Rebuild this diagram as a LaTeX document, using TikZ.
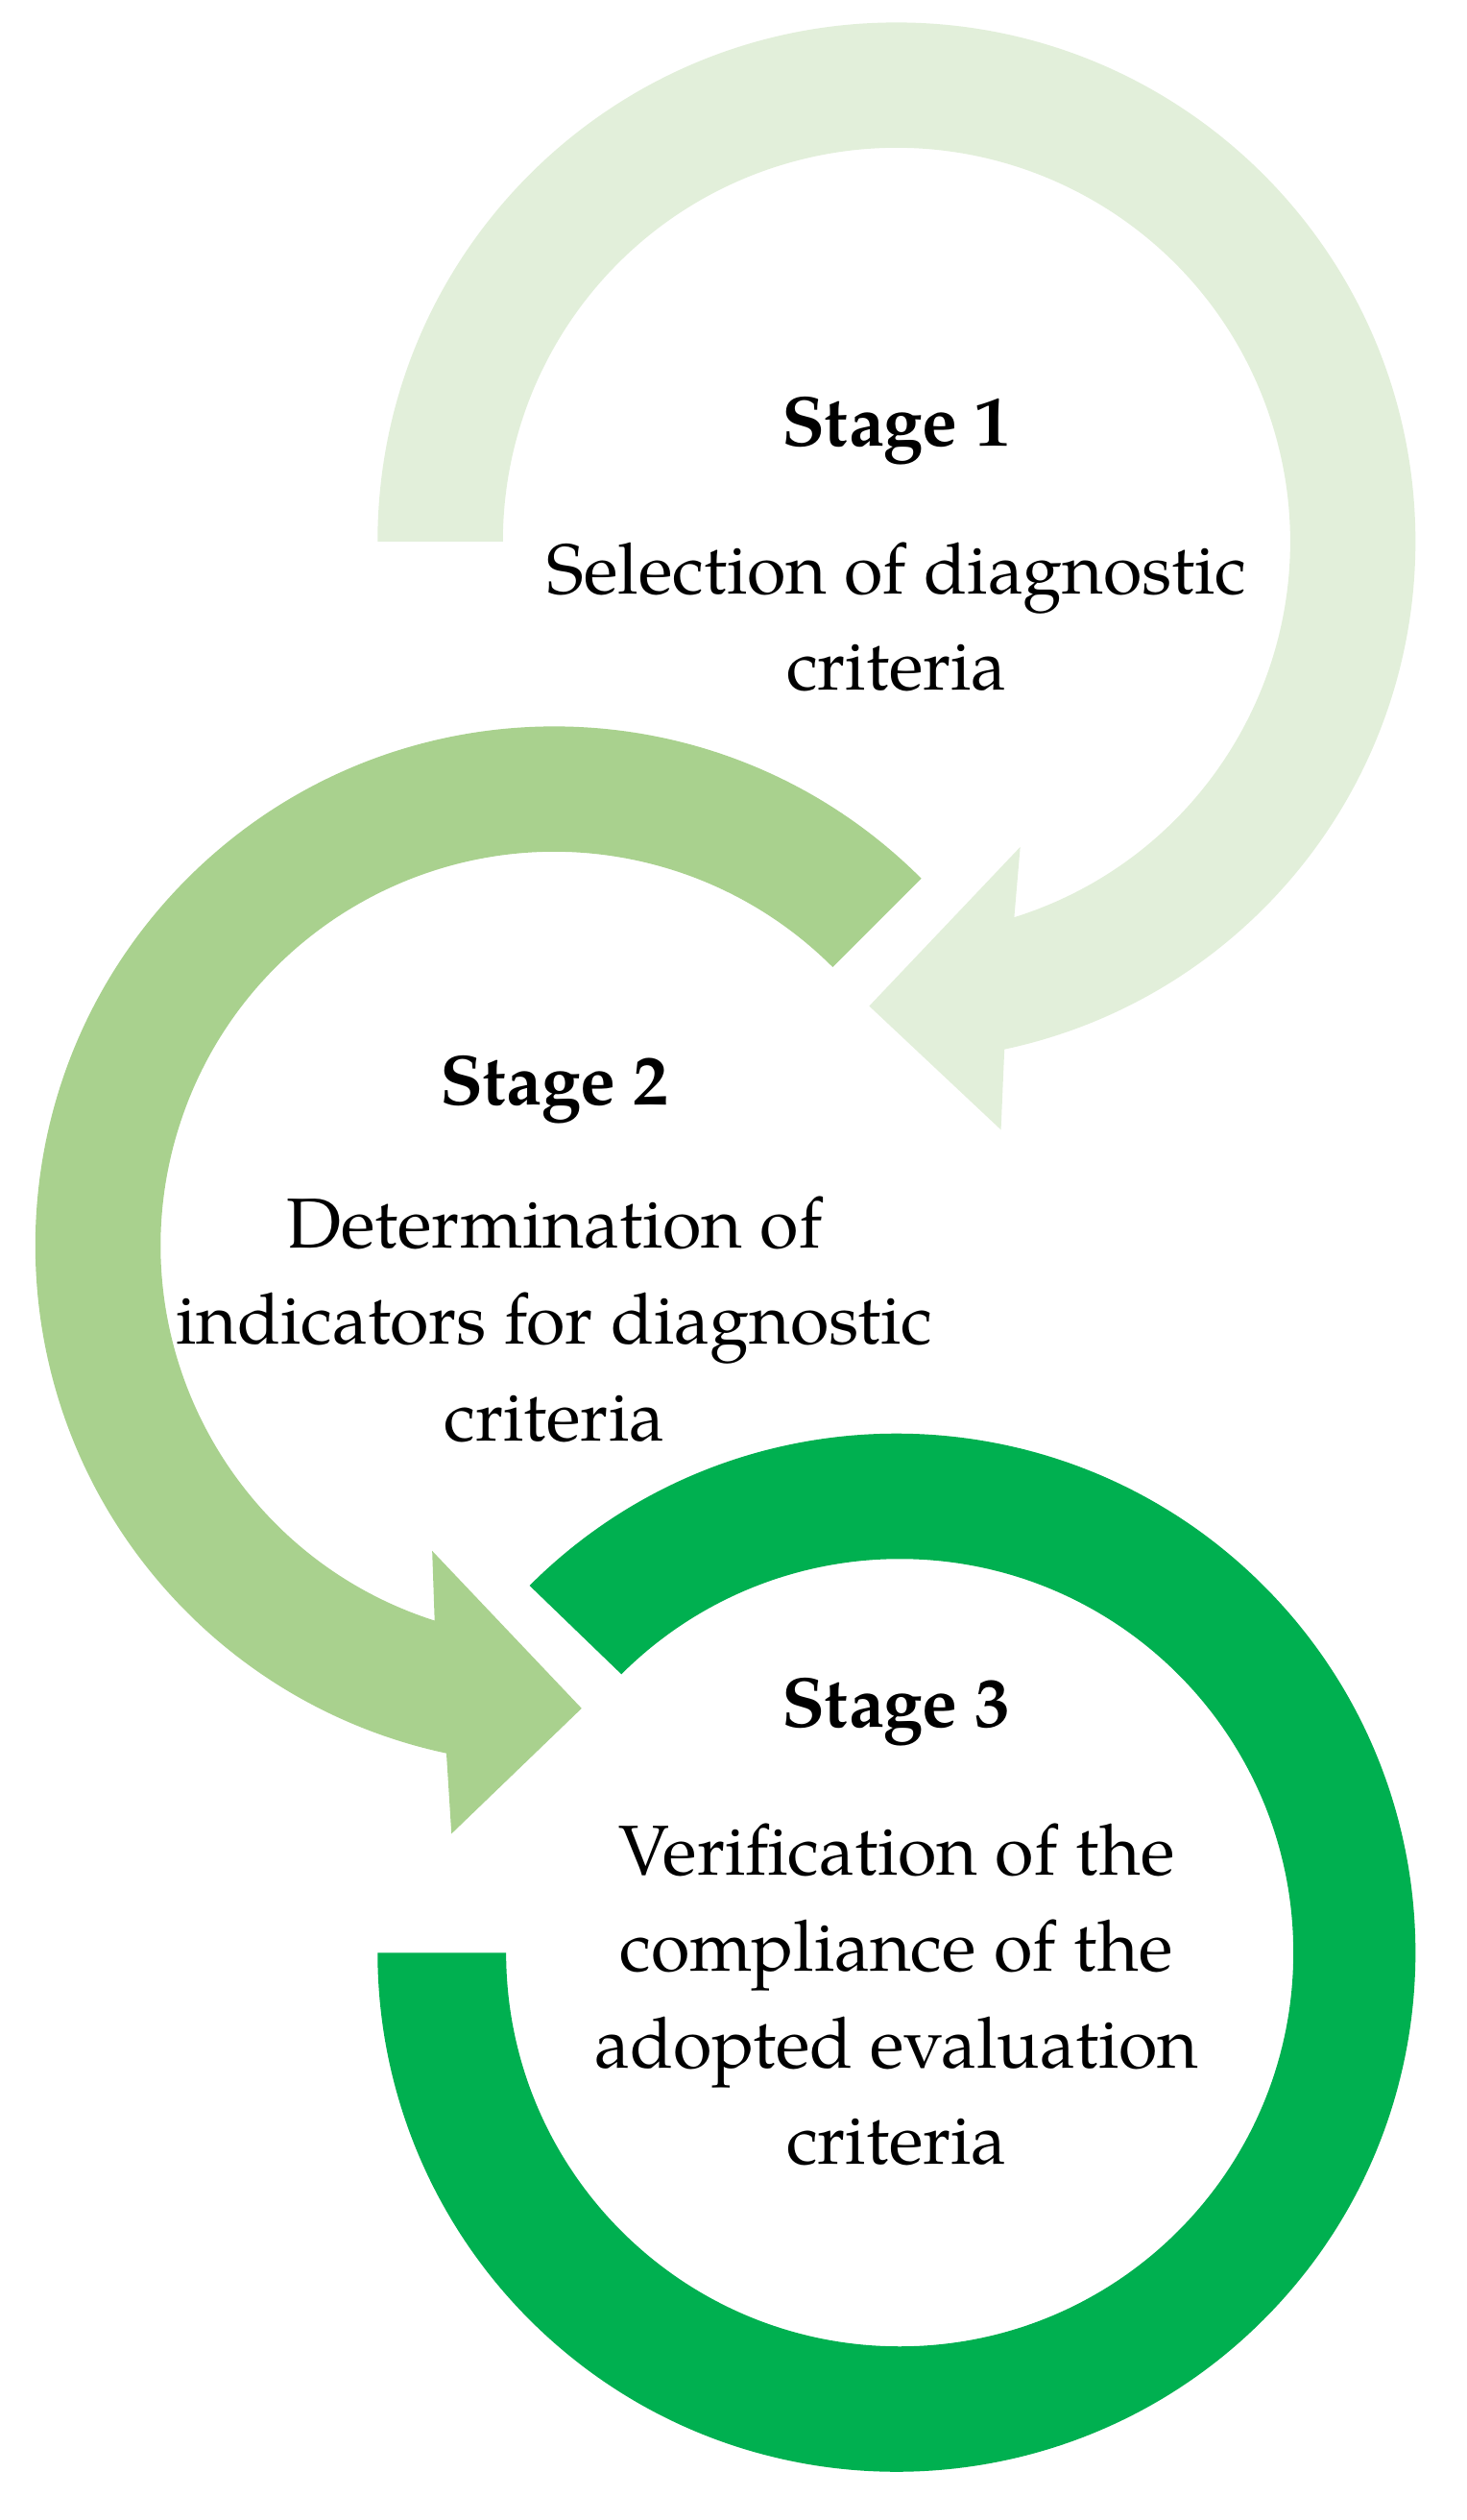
\documentclass[tikz,border=0pt]{standalone}
\usepackage{fontspec}
\setmainfont{TeX Gyre Pagella}
\usetikzlibrary{calc}
\begin{document}
\begin{tikzpicture}[x=0.5pt,y=0.5pt,
  body/.style={align=center,font=\fontsize{22}{30}\selectfont,inner sep=0pt},
  head/.style={font=\fontsize{22}{30}\selectfont\bfseries,inner sep=0pt}]
\definecolor{cA}{HTML}{E2EFDA}
\definecolor{cB}{HTML}{A9D18E}
\definecolor{cC}{HTML}{00B050}
\useasboundingbox (0,0) rectangle (913,1568);
\coordinate (c1) at (558,1231);
\coordinate (c2) at (345,793);
\coordinate (c3) at (558,353);
% ring 1
\fill[cA] (c1) ++(180:323) arc[start angle=180,end angle=-78,radius=323]
  -- (623,865) -- (541,942) -- (635,1041)
  -- ($(c1)+(-72.6:245)$) arc[start angle=-72.6,end angle=180,radius=245] -- cycle;
% ring 2
\fill[cB] (c2) ++(45:323) arc[start angle=45,end angle=258,radius=323]
  -- (281,427) -- (362,505) -- (269,603)
  -- ($(c2)+(252.3:245)$) arc[start angle=252.3,end angle=45,radius=245] -- cycle;
% ring 3
\fill[cC] (c3) ++(135:323) arc[start angle=135,end angle=-180,radius=323]
  -- ++(80,0) arc[start angle=-180,end angle=135,radius=245] -- cycle;
\node[head] (h1) at (558,1300) {Stage 1};
\node[body] (b1) at (558,1184) {Selection of diagnostic\\criteria};
\node[head] (h2) at (345,890) {Stage 2};
\node[body] (b2) at (345,747) {Determination of\\indicators for diagnostic\\criteria};
\node[head] (h3) at (558,503) {Stage 3};
\node[body] (b3) at (558,327) {Verification of the\\compliance of the\\adopted evaluation\\criteria};
\end{tikzpicture}
\end{document}
